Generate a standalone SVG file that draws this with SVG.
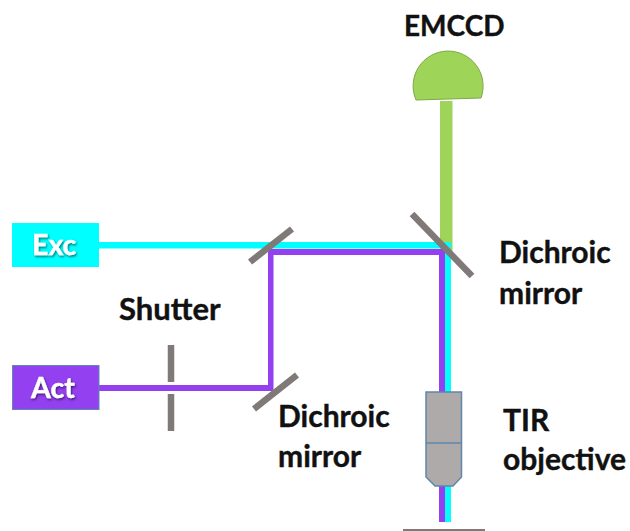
<svg xmlns="http://www.w3.org/2000/svg" width="630" height="531" viewBox="0 0 630 531">
<defs>
<filter id="sh" x="-20%" y="-20%" width="140%" height="140%"><feDropShadow dx="1" dy="1.5" stdDeviation="1" flood-color="#000" flood-opacity="0.55"/></filter>
</defs>
<style>
text{font-family:"Lato","Open Sans","Liberation Sans",sans-serif;font-weight:700;font-size:30px;fill:#111;stroke:#111;stroke-width:0.4}
.in{fill:#fff;stroke:#fff;font-size:28.500px;filter:url(#sh)}
.em{font-size:28px}
.mirror{stroke:#7f7a78;stroke-width:6.5;fill:none}
.cy{fill:#00ffff}
.pu{fill:#9340f0}
.gr{fill:#9ed457}
</style>
<rect width="630" height="531" fill="#fff"/>
<g id="connectors">
<rect class="gr" x="440" y="101" width="12.5" height="150"/>
<rect class="cy" x="99" y="242" width="346" height="6.5"/>
<rect class="cy" x="445" y="242" width="6" height="280"/>
<rect class="pu" x="268" y="249" width="177" height="6"/>
<rect class="pu" x="439" y="249" width="6" height="273"/>
<rect class="pu" x="268" y="249" width="5.5" height="142"/>
<rect class="pu" x="99" y="385" width="174" height="6"/>
</g>
<g id="emccd">
<path d="M416 100A35 35 0 1 1 481 98Z" fill="#9ed457" stroke="#7fa84a" stroke-width="1"/>
<text class="em" x="404" y="36">EMCCD</text>
</g>
<g id="exc">
<rect x="12" y="223" width="87" height="44" fill="#00ffff"/>
<text class="in" x="32" y="255">Exc</text>
</g>
<g id="act">
<rect x="12.500" y="365.500" width="86.500" height="44" fill="#9340f0" stroke="#5b8bb5" stroke-width="1"/>
<text class="in" x="31" y="398">Act</text>
</g>
<g id="shutter">
<path class="mirror" d="M171 345V382M171 394V431"/>
<text x="119" y="320" style="font-size:31px">Shutter</text>
</g>
<g id="mirror-top-left">
<path class="mirror" d="M250 262L292 229"/>
</g>
<g id="mirror-bottom-left">
<path class="mirror" d="M254 409L297 375"/>
<text x="278" y="427">Dichroic</text>
<text x="278" y="467">mirror</text>
</g>
<g id="mirror-right">
<path class="mirror" d="M412 214L472 276"/>
<text x="499" y="263">Dichroic</text>
<text x="499" y="304">mirror</text>
</g>
<g id="objective">
<path d="M426 392H461.500V477L453 486H435L426 477Z" fill="#aeaaaa" stroke="#5f87ab" stroke-width="1.500"/>
<path d="M426 443H461.500" stroke="#5f87ab" stroke-width="1.500"/>
<text x="503" y="431">TIR</text>
<text x="503" y="470">objective</text>
</g>
<g id="sample">
<path d="M403 530H485" stroke="#7f7a78" stroke-width="2"/>
</g>
</svg>
